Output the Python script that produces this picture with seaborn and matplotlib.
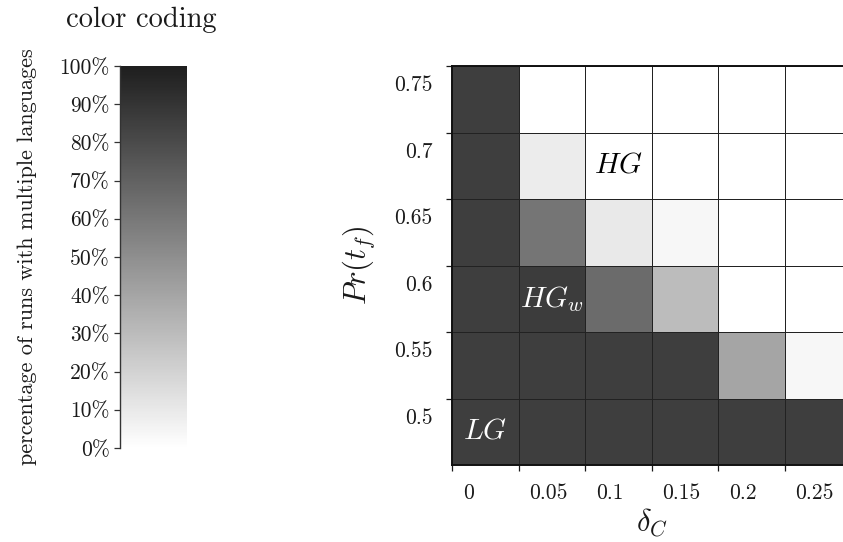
import numpy as np
import pandas as pd
import matplotlib
matplotlib.use("Agg")
import matplotlib.pyplot as plt
import seaborn as sns
from matplotlib.colors import LinearSegmentedColormap
from matplotlib.ticker import NullFormatter

# Parameter grid: columns are delta_C, rows are Pr(t_f) (top to bottom)
delta_c = ["0", "0.05", "0.1", "0.15", "0.2", "0.25"]
pr_tf = ["0.75", "0.7", "0.65", "0.6", "0.55", "0.5"]

# Percentage of runs ending with multiple languages, one list per Pr(t_f) row
row_075 = [85.7, 0.0, 0.0, 0.0, 0.0, 0.0]
row_070 = [85.7, 8.5, 0.0, 0.0, 0.0, 0.0]
row_065 = [85.7, 61.0, 10.0, 3.6, 0.0, 0.0]
row_060 = [85.7, 86.5, 66.0, 30.0, 0.0, 0.0]
row_055 = [85.7, 85.7, 85.7, 85.7, 40.0, 3.6]
row_050 = [85.7, 85.7, 85.7, 85.7, 85.7, 85.7]

cbar_ticks = [0, 10, 20, 30, 40, 50, 60, 70, 80, 90, 100]
cbar_labels = [f"{t}%" for t in cbar_ticks]

# Region names placed in a representative cell: (text, delta_C, Pr(t_f), colour)
regions = [
    (r"$HG$", "0.1", "0.7", "black"),
    (r"$HG_w$", "0.05", "0.6", "white"),
    (r"$LG$", "0", "0.5", "white"),
]

sns.set_theme(style="white")
plt.rcParams.update({
    "font.family": "serif",
    "font.serif": ["cmr10"],
    "mathtext.fontset": "cm",
    "axes.formatter.use_mathtext": True,
    "text.color": "#1a1a1a",
    "axes.labelcolor": "#1a1a1a",
    "xtick.color": "#1a1a1a",
    "ytick.color": "#1a1a1a",
})

W, H = 843, 542
fig = plt.figure(figsize=(W / 100, H / 100), dpi=100)
ax = fig.add_axes([452 / W, 77 / H, 399 / W, 399 / H])
cax = fig.add_axes([120 / W, 94 / H, 67 / W, 382 / H])

df = pd.DataFrame([row_075, row_070, row_065, row_060, row_055, row_050],
                  index=pr_tf, columns=delta_c)
cmap = LinearSegmentedColormap.from_list("mono", ["#ffffff", "#1e1e1e"])

sns.heatmap(df, ax=ax, cmap=cmap, vmin=0, vmax=100,
            linewidths=0.7, linecolor="#222222",
            cbar_ax=cax, cbar_kws={"ticks": cbar_ticks})

# Ticks sit on the cell edges, labels are shifted into the cells
n_x, n_y = len(delta_c), len(pr_tf)
ax.set_xticks(np.arange(n_x))
ax.set_yticks(np.arange(n_y))
ax.xaxis.set_major_formatter(NullFormatter())
ax.yaxis.set_major_formatter(NullFormatter())
ax.set_xticks(np.arange(n_x) + 0.16, labels=delta_c, minor=True)
ax.set_yticks(np.arange(n_y) + 0.29, labels=pr_tf, minor=True)
for lab in ax.get_xticklabels(minor=True):
    lab.set_ha("left")
for lab in ax.get_yticklabels(minor=True):
    lab.set_rotation(0)
    lab.set_va("center")

ax.tick_params(which="major", direction="out", length=4.5, width=0.9,
               bottom=True, left=True, color="#1a1a1a")
ax.tick_params(which="minor", length=0, labelsize=15.5)
ax.tick_params(axis="x", which="minor", pad=13)
ax.tick_params(axis="y", which="minor", pad=14)

for side in ["left", "top", "bottom", "right"]:
    ax.spines[side].set_visible(True)
    ax.spines[side].set_linewidth(1.4)
    ax.spines[side].set_color("#111111")

ax.set_xlabel(r"$\delta_C$", fontsize=22, labelpad=3)
ax.set_ylabel(r"$Pr(t_f)$", fontsize=22, labelpad=12)

for text, dc, pr, color in regions:
    ax.text(delta_c.index(dc) + 0.5, pr_tf.index(pr) + 0.5, text,
            ha="center", va="center", fontsize=21, color=color)

# Colour scale on the left
cbar = ax.collections[0].colorbar
cbar.outline.set_visible(False)
cax.yaxis.set_ticks_position("left")
cax.yaxis.set_label_position("left")
cbar.set_ticks(cbar_ticks, labels=cbar_labels)
cax.tick_params(length=4.5, width=0.9, labelsize=15.5, pad=3, color="#333333")
cax.spines["left"].set_visible(True)
cax.spines["left"].set_color("#333333")
cax.spines["left"].set_linewidth(1.0)
cbar.set_label("percentage of runs with multiple languages", fontsize=16, labelpad=16)

fig.text(141 / W, 1 - 20 / H, "color coding", ha="center", va="center", fontsize=20.5)

fig.savefig("out.png", dpi=100)
